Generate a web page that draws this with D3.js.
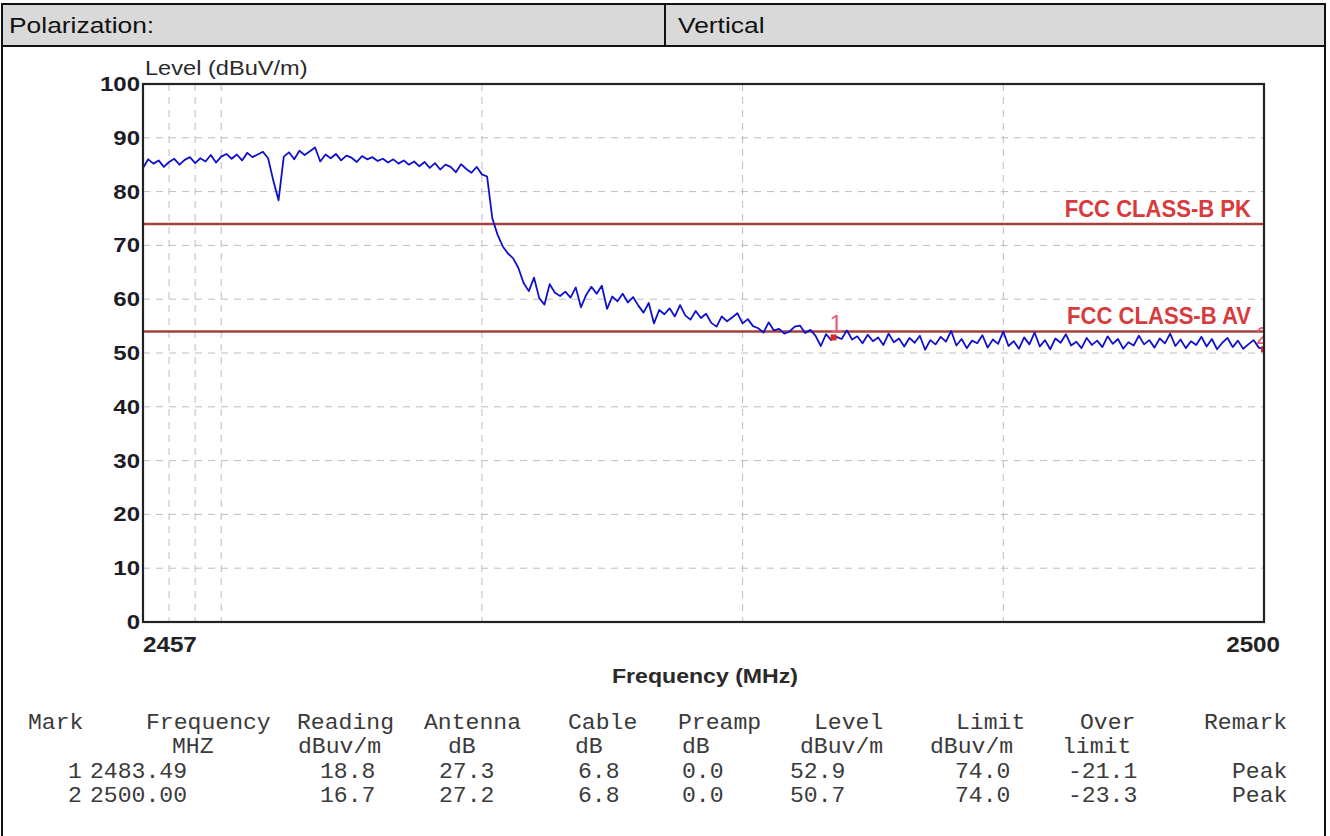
<!DOCTYPE html>
<html><head><meta charset="utf-8">
<script src="https://cdn.jsdelivr.net/npm/d3@7"></script>
<style>body{margin:0;background:#fff}svg{display:block}</style>
</head><body><svg id="c" width="1330" height="836"></svg>
<script>
// ---------------- data ----------------
const freq = [
2457.0,2457.2,2457.4,2457.6,2457.8,2458.0,2458.2,2458.4,2458.6,2458.8,
2459.0,2459.2,2459.4,2459.6,2459.8,2460.0,2460.2,2460.4,2460.6,2460.8,
2461.0,2461.2,2461.4,2461.6,2461.8,2462.0,2462.2,2462.4,2462.6,2462.8,
2463.0,2463.2,2463.4,2463.6,2463.8,2464.0,2464.2,2464.4,2464.6,2464.8,
2465.0,2465.2,2465.4,2465.6,2465.8,2466.0,2466.2,2466.4,2466.6,2466.8,
2467.0,2467.2,2467.4,2467.6,2467.8,2468.0,2468.2,2468.4,2468.6,2468.8,
2469.0,2469.2,2469.4,2469.6,2469.8,2470.0,2470.2,2470.4,2470.6,2470.8,
2471.0,2471.2,2471.4,2471.6,2471.8,2472.0,2472.2,2472.4,2472.6,2472.8,
2473.0,2473.2,2473.4,2473.6,2473.8,2474.0,2474.2,2474.4,2474.6,2474.8,
2475.0,2475.2,2475.4,2475.6,2475.8,2476.0,2476.2,2476.4,2476.6,2476.8,
2477.0,2477.2,2477.4,2477.6,2477.8,2478.0,2478.2,2478.4,2478.6,2478.8,
2479.0,2479.2,2479.4,2479.6,2479.8,2480.0,2480.2,2480.4,2480.6,2480.8,
2481.0,2481.2,2481.4,2481.6,2481.8,2482.0,2482.2,2482.4,2482.6,2482.8,
2483.0,2483.2,2483.4,2483.6,2483.8,2484.0,2484.2,2484.4,2484.6,2484.8,
2485.0,2485.2,2485.4,2485.6,2485.8,2486.0,2486.2,2486.4,2486.6,2486.8,
2487.0,2487.2,2487.4,2487.6,2487.8,2488.0,2488.2,2488.4,2488.6,2488.8,
2489.0,2489.2,2489.4,2489.6,2489.8,2490.0,2490.2,2490.4,2490.6,2490.8,
2491.0,2491.2,2491.4,2491.6,2491.8,2492.0,2492.2,2492.4,2492.6,2492.8,
2493.0,2493.2,2493.4,2493.6,2493.8,2494.0,2494.2,2494.4,2494.6,2494.8,
2495.0,2495.2,2495.4,2495.6,2495.8,2496.0,2496.2,2496.4,2496.6,2496.8,
2497.0,2497.2,2497.4,2497.6,2497.8,2498.0,2498.2,2498.4,2498.6,2498.8,
2499.0,2499.2,2499.4,2499.6,2499.8,2500.0];

const level = [
84.4,86.0,85.2,85.8,84.6,85.5,86.1,85.0,85.9,86.4,85.3,86.2,85.6,86.8,85.4,86.5,87.0,86.1,86.9,85.8,87.2,86.4,86.9,
87.4,86.2,82.0,78.4,
86.5,87.3,86.0,87.6,86.8,87.5,88.2,85.6,86.9,86.2,87.0,85.8,86.7,86.3,85.5,86.6,86.0,86.4,
85.7,86.1,85.4,86.0,85.2,85.8,85.0,85.6,84.7,85.5,84.4,85.3,84.1,85.0,84.6,83.6,85.1,84.2,83.5,84.6,83.2,82.8,
75.0,72.0,69.8,68.5,67.6,65.8,63.0,61.5,64.0,60.2,59.0,62.8,61.2,60.6,61.4,60.3,62.2,58.5,60.8,62.3,
61.0,62.5,58.2,60.5,59.6,61.0,59.4,60.4,58.8,57.5,59.3,55.5,58.0,57.2,58.3,56.8,58.9,57.0,56.2,57.8,
56.5,57.3,55.6,54.9,56.8,55.9,56.6,57.4,55.5,56.3,55.0,54.6,53.8,55.7,54.2,54.5,53.6,54.0,54.9,55.1,
53.7,54.3,53.2,51.3,53.5,52.4,53.0,52.6,
54.2,52.5,53.1,51.8,53.4,52.2,52.9,51.5,53.6,52.0,
52.7,51.2,52.8,51.9,53.2,50.6,52.4,51.6,53.0,52.1,
54.1,51.4,52.6,50.9,52.3,51.8,53.3,51.0,52.5,51.7,
54.0,51.3,52.2,50.8,52.9,51.6,53.8,51.2,52.4,50.7,
52.7,51.9,53.5,51.4,52.1,50.9,52.8,51.5,52.3,51.1,
53.1,51.7,52.6,50.8,52.0,51.4,53.2,51.6,52.4,51.0,
52.7,51.8,53.6,51.3,52.5,50.9,52.2,51.5,53.0,51.2,
52.6,50.7,51.9,52.8,51.1,52.3,50.8,51.6,52.4,51.0,
50.7];

const yTicks = [0,10,20,30,40,50,60,70,80,90,100];
const yGrid = [10,20,30,40,50,60,70,80,90];
const xGrid = [2458,2459,2460,2470,2480,2490];
const xTickLabels = [2457,2500];
const limitNames = ["FCC CLASS-B PK","FCC CLASS-B AV"];
const limitValues = [74,54];

const markNo = ["1","2"];
const markFreq = ["2483.49","2500.00"];
const markReading = ["18.8","16.7"];
const markAntenna = ["27.3","27.2"];
const markCable = ["6.8","6.8"];
const markPreamp = ["0.0","0.0"];
const markLevel = ["52.9","50.7"];
const markLimit = ["74.0","74.0"];
const markOver = ["-21.1","-23.3"];
const markRemark = ["Peak","Peak"];
const headTop = ["Mark","Frequency","Reading","Antenna","Cable","Preamp","Level","Limit","Over","Remark"];
const headUnit = ["","MHZ","dBuv/m","dB","dB","dB","dBuv/m","dBuv/m","limit",""];

// ---------------- layout ----------------
const svg = d3.select("#c");
const L = 143, R = 1264, T = 84, B = 622;
const x = d3.scaleLinear().domain([2457,2500]).range([L,R]);
const y = d3.scaleLinear().domain([0,100]).range([B,T]);

function txt(g, px, py, s, o) {
  o = o || {};
  return g.append("text")
    .attr("transform", `translate(${px},${py}) scale(${o.sx||1},1)`)
    .attr("text-anchor", o.anchor || "start")
    .attr("font-family", o.font || "'Liberation Sans', Arial, sans-serif")
    .attr("font-size", o.size || 20)
    .attr("font-weight", o.weight || "normal")
    .attr("fill", o.fill || "#222")
    .text(s);
}

// header row
svg.append("rect").attr("x",2).attr("y",4).attr("width",1323).attr("height",42)
  .attr("fill","#d9d9d9").attr("stroke","#111").attr("stroke-width",2);
svg.append("line").attr("x1",665).attr("x2",665).attr("y1",4).attr("y2",46).attr("stroke","#111").attr("stroke-width",2);
txt(svg, 9, 33, "Polarization:", {size:22, sx:1.2, fill:"#111"});
txt(svg, 678, 33, "Vertical", {size:22, sx:1.2, fill:"#111"});
// main panel
svg.append("rect").attr("x",2).attr("y",46).attr("width",1323).attr("height",800)
  .attr("fill","#fff").attr("stroke","#111").attr("stroke-width",2);

// plot
const g = svg.append("g");
svg.append("defs").append("clipPath").attr("id","pc").append("rect")
  .attr("x",L).attr("y",T).attr("width",R-L).attr("height",B-T);

// grid
g.selectAll(".hg").data(yGrid).join("line")
  .attr("x1",L).attr("x2",R).attr("y1",d=>y(d)).attr("y2",d=>y(d))
  .attr("stroke","#bdbdbd").attr("stroke-width",1).attr("stroke-dasharray","7,6");
g.selectAll(".vg").data(xGrid).join("line")
  .attr("x1",d=>x(d)).attr("x2",d=>x(d)).attr("y1",T).attr("y2",B)
  .attr("stroke","#bdbdbd").attr("stroke-width",1).attr("stroke-dasharray","7,6");

// y tick labels
yTicks.forEach(v => txt(g, 140, y(v)+7, String(v), {anchor:"end", size:20, weight:"bold", sx:1.2, fill:"#1c1c28"}));
// x tick labels
txt(g, x(xTickLabels[0]), 652, String(xTickLabels[0]), {size:22, weight:"bold", sx:1.1, fill:"#222"});
txt(g, 1280, 652, String(xTickLabels[1]), {anchor:"end", size:22, weight:"bold", sx:1.1, fill:"#222"});
// axis titles
txt(g, 145, 75, "Level (dBuV/m)", {size:20, sx:1.18, fill:"#2a2a2a"});
txt(g, 705, 683, "Frequency (MHz)", {anchor:"middle", size:21, weight:"bold", sx:1.1, fill:"#2a2a2a"});

// limit lines
limitValues.forEach((v,i) => {
  g.append("line").attr("x1",L).attr("x2",R).attr("y1",y(v)).attr("y2",y(v))
    .attr("stroke","#a3403e").attr("stroke-width",2.5);
  txt(g, 1251, y(v)-7, limitNames[i], {anchor:"end", size:23, weight:"bold", sx:0.96, fill:"#d93a3c"});
});

// data line
const pts = freq.map((f,i)=>[f, level[i]]);
g.append("path").datum(pts).attr("clip-path","url(#pc)")
  .attr("d", d3.line().x(d=>x(d[0])).y(d=>y(d[1])))
  .attr("fill","none").attr("stroke","#1010cc").attr("stroke-width",1.8).attr("stroke-linejoin","round");

// markers
const mg = g.append("g").attr("clip-path","url(#pc)");
markNo.forEach((m,i) => {
  const fx = x(+markFreq[i]), fy = y(+markLevel[i]);
  mg.append("rect").attr("x",fx-3).attr("y",fy-3).attr("width",6).attr("height",6).attr("fill","#e02828");
  txt(mg, fx+(i===0?-4:-8), fy-5, m, {size:24, fill:"#e0607a"});
});

// frame
g.append("rect").attr("x",L).attr("y",T).attr("width",R-L).attr("height",B-T)
  .attr("fill","none").attr("stroke","#222").attr("stroke-width",2.2);

// table
const rowsY = [729, 753, 778, 802];
const tf = {font:"'Liberation Mono', 'Courier New', monospace", size:22, fill:"#3a3a3a", sx:1.05};
const xTop  = [28,146,297,424,568,678,814,956,1080,1204];
const xUnit = [0,172,298,448,575,682,800,930,1062,0];
headTop.forEach((s,i)=> txt(svg, xTop[i], rowsY[0], s, tf));
headUnit.forEach((s,i)=> { if (s) txt(svg, xUnit[i], rowsY[1], s, tf); });
const xData = [68,90,320,439,578,682,790,955,1068,1232];
const cols = [markNo, markFreq, markReading, markAntenna, markCable, markPreamp, markLevel, markLimit, markOver, markRemark];
markNo.forEach((_,r) => cols.forEach((c,j) => txt(svg, xData[j], rowsY[2+r], c[r], tf)));
</script></body></html>
